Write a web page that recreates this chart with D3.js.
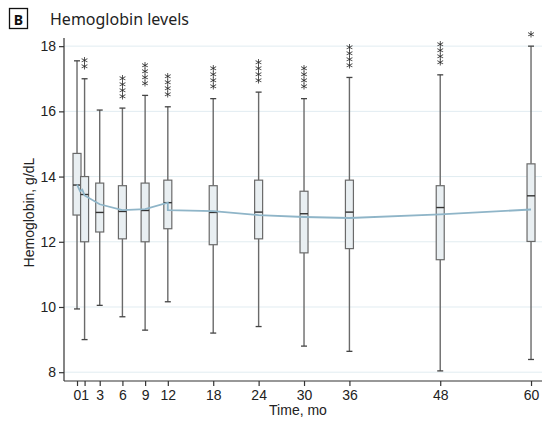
<!DOCTYPE html>
<html>
<head>
<meta charset="utf-8">
<script src="https://cdn.jsdelivr.net/npm/d3@7"></script>
<style>
  html, body { margin: 0; padding: 0; background: #fff; }
  svg { display: block; }
  .star { filter: grayscale(1); }
</style>
</head>
<body>
<svg id="chart" width="542" height="423"></svg>
<script>
// Hemoglobin (g/dL) by follow-up month: box-and-whisker summaries
const months      = [0, 1, 3, 6, 9, 12, 18, 24, 30, 36, 48, 60];
const whiskerHigh = [17.55, 17.0, 16.04, 16.1, 16.49, 16.14, 16.39, 16.59, 16.39, 17.04, 17.12, 18.0];
const q3          = [14.71, 14.0, 13.8, 13.72, 13.8, 13.89, 13.72, 13.89, 13.55, 13.89, 13.72, 14.39];
const medians     = [13.74, 13.45, 12.9, 12.93, 12.96, 13.2, 12.9, 12.91, 12.86, 12.91, 13.05, 13.41];
const q1          = [12.82, 12.0, 12.3, 12.09, 12.0, 12.4, 11.91, 12.09, 11.66, 11.79, 11.45, 12.01];
const whiskerLow  = [9.94, 9.0, 10.05, 9.7, 9.29, 10.16, 9.2, 9.4, 8.8, 8.64, 8.04, 8.39];
const significance = ["", "**", "", "****", "****", "****", "****", "****", "****", "****", "****", "*"];

// Trend line (month, g/dL); two values at month 12 give the step there
const trendMonths = [0, 0.4, 0.7, 1, 3, 6, 9, 12, 12, 18, 24, 30, 36, 48, 60];
const trendValues = [13.75, 13.55, 13.6, 13.42, 13.15, 12.97, 13.0, 13.2, 12.97, 12.94, 12.82, 12.76, 12.73, 12.84, 12.99];

const yTicks = [8, 10, 12, 14, 16, 18];

const svg = d3.select("#chart");
const plot = { left: 64, right: 542, top: 38, bottom: 381 };

const x = d3.scaleLinear().domain([-1.72, 61.45]).range([plot.left, plot.right]);
const y = d3.scaleLinear().domain([7.73, 18.25]).range([plot.bottom, plot.top]);

const boxW = 8, capW = 6;
const boxStroke = "#6a6a6a";

// Panel header
svg.append("rect").attr("x", 9.5).attr("y", 8.5).attr("width", 18).attr("height", 20)
  .attr("fill", "none").attr("stroke", "#111").attr("stroke-width", 1.3);
svg.append("text").attr("x", 18.5).attr("y", 24.5).attr("text-anchor", "middle")
  .attr("font-family", "Noto Sans, Open Sans, sans-serif").attr("font-weight", "bold")
  .attr("font-size", 14).attr("fill", "#111").text("B");
svg.append("text").attr("x", 50).attr("y", 25)
  .attr("font-family", "Noto Sans, Open Sans, sans-serif")
  .attr("font-size", 16).attr("fill", "#222").text("Hemoglobin levels");

// Gridlines
svg.append("g").selectAll("line").data(yTicks).join("line")
  .attr("x1", plot.left).attr("x2", plot.right)
  .attr("y1", d => y(d)).attr("y2", d => y(d))
  .attr("stroke", "#e1ecf1").attr("stroke-width", 1);

// Axes
const fontAxis = "Liberation Sans, Arial, sans-serif";
const yAxis = svg.append("g").attr("transform", `translate(${plot.left},0)`)
  .call(d3.axisLeft(y).tickValues(yTicks).tickSize(5).tickPadding(3).tickFormat(d3.format("d")));
const xAxis = svg.append("g").attr("transform", `translate(0,${plot.bottom})`)
  .call(d3.axisBottom(x).tickValues(months).tickSize(5).tickPadding(4).tickFormat(d3.format("d")));
[yAxis, xAxis].forEach(g => {
  g.select(".domain").attr("stroke", "#333").attr("stroke-width", 1.2);
  g.selectAll(".tick line").attr("stroke", "#333").attr("stroke-width", 1.2);
  g.selectAll(".tick text").attr("font-family", fontAxis).attr("font-size", 14).attr("fill", "#222");
});
yAxis.select(".domain").attr("d", `M0,${plot.top}V${plot.bottom}`);
xAxis.select(".domain").attr("d", `M${plot.left},0H${plot.right}`);

// Axis titles
svg.append("text").attr("transform", `translate(34,${(plot.top + plot.bottom) / 2 + 3}) rotate(-90)`)
  .attr("text-anchor", "middle").attr("font-family", fontAxis).attr("font-size", 14)
  .attr("fill", "#222").text("Hemoglobin, g/dL");
svg.append("text").attr("x", 298).attr("y", 415).attr("text-anchor", "middle")
  .attr("font-family", fontAxis).attr("font-size", 14).attr("fill", "#222").text("Time, mo");

// Boxes
const rows = months.map((m, i) => ({
  m, hi: whiskerHigh[i], q3: q3[i], med: medians[i], q1: q1[i], lo: whiskerLow[i], sig: significance[i]
}));
const boxes = svg.append("g").selectAll("g").data(rows).join("g");
boxes.append("line").attr("x1", d => x(d.m)).attr("x2", d => x(d.m))
  .attr("y1", d => y(d.hi)).attr("y2", d => y(d.q3)).attr("stroke", boxStroke).attr("stroke-width", 1.4);
boxes.append("line").attr("x1", d => x(d.m)).attr("x2", d => x(d.m))
  .attr("y1", d => y(d.q1)).attr("y2", d => y(d.lo)).attr("stroke", boxStroke).attr("stroke-width", 1.4);
boxes.append("line").attr("x1", d => x(d.m) - capW / 2).attr("x2", d => x(d.m) + capW / 2)
  .attr("y1", d => y(d.hi)).attr("y2", d => y(d.hi)).attr("stroke", "#444").attr("stroke-width", 1.3);
boxes.append("line").attr("x1", d => x(d.m) - capW / 2).attr("x2", d => x(d.m) + capW / 2)
  .attr("y1", d => y(d.lo)).attr("y2", d => y(d.lo)).attr("stroke", "#444").attr("stroke-width", 1.3);
boxes.append("rect").attr("x", d => x(d.m) - boxW / 2).attr("width", boxW)
  .attr("y", d => y(d.q3)).attr("height", d => y(d.q1) - y(d.q3))
  .attr("fill", "#e9eff2").attr("stroke", boxStroke).attr("stroke-width", 1.2);
boxes.append("line").attr("x1", d => x(d.m) - boxW / 2).attr("x2", d => x(d.m) + boxW / 2)
  .attr("y1", d => y(d.med)).attr("y2", d => y(d.med)).attr("stroke", "#333").attr("stroke-width", 1.4);

// Significance markers: one asterisk per level, stacked upward above the upper whisker
const starPitch = 6;
boxes.filter(d => d.sig).selectAll("text.star")
  .data(d => d.sig.split("").map((s, k) => ({ s, k, cx: x(d.m), top: y(d.hi) })))
  .join("text").attr("class", "star")
  .attr("x", d => d.cx).attr("y", d => d.top - 5.5 - d.k * starPitch)
  .attr("text-anchor", "middle")
  .attr("font-family", "DejaVu Sans, sans-serif").attr("font-size", 14).attr("fill", "#2a2a2a")
  .text(d => d.s);

// Trend line
const trend = trendMonths.map((m, i) => [m, trendValues[i]]);
svg.append("path").datum(trend)
  .attr("d", d3.line().x(d => x(d[0])).y(d => y(d[1])))
  .attr("fill", "none").attr("stroke", "#8fb5c8").attr("stroke-width", 1.8);
</script>
</body>
</html>
